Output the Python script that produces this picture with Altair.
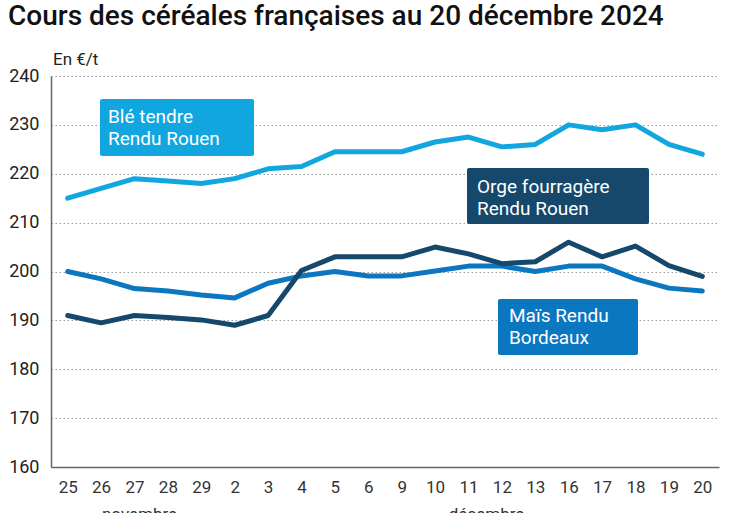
import altair as alt
import pandas as pd

days = ["25", "26", "27", "28", "29", "2", "3", "4", "5", "6",
        "9", "10", "11", "12", "13", "16", "17", "18", "19", "20"]
ble = [215, 217, 219, 218.5, 218, 219, 221, 221.5, 224.5, 224.5,
       224.5, 226.5, 227.5, 225.5, 226, 230, 229, 230, 226, 224]
mais = [200, 198.5, 196.5, 196, 195.2, 194.6, 197.6, 199.1, 200, 199.1,
        199.1, 200.1, 201.1, 201.1, 200, 201.1, 201.1, 198.5, 196.6, 196]
orge = [191, 189.5, 191, 190.6, 190.1, 189, 191, 200.2, 203, 203,
        203, 205, 203.6, 201.6, 202, 206, 203, 205.2, 201.2, 199]
months = ["novembre", "décembre"]
month_at = ["27", "11"]

series = {"Blé": ble, "Maïs": mais, "Orge": orge}
colors = {"Blé": "#12a6e0", "Maïs": "#0b77c1", "Orge": "#16486b"}

rows = []
for name, vals in series.items():
    for d, v in zip(days, vals):
        rows.append({"jour": d, "prix": v, "serie": name})
df = pd.DataFrame(rows)

W, H = 668, 391
FONT = "Roboto"

xenc = alt.X("jour:N", sort=days,
             scale=alt.Scale(type="point", padding=0.5),
             axis=alt.Axis(title=None, labelAngle=0, ticks=False, domain=True,
                           domainColor="#666", domainWidth=1.5, labelFontSize=17,
                           labelColor="#333", labelFont=FONT, labelPadding=12,
                           grid=False))
yenc = alt.Y("prix:Q", scale=alt.Scale(domain=[160, 240], nice=False, zero=False),
             axis=alt.Axis(title=None, values=list(range(160, 250, 10)), ticks=False,
                           domain=True, domainColor="#666", domainWidth=1.5,
                           labelFontSize=18, labelColor="#222", labelFont=FONT,
                           labelPadding=12, grid=True, gridColor="#9a9a9a",
                           gridDash=[1.5, 2.5], gridWidth=1))

base = alt.Chart(df)
layers = []
for i, name in enumerate(["Blé", "Maïs", "Orge"]):
    enc = dict(x=xenc, y=yenc) if i == 0 else dict(x=alt.X("jour:N", sort=days), y="prix:Q")
    layers.append(
        base.transform_filter(alt.datum.serie == name)
        .mark_line(color=colors[name], strokeWidth=5, strokeCap="round", strokeJoin="round")
        .encode(**enc)
    )


def label_box(x1, x2, y1, y2, color, lines, tx, ty, lh=22):
    out = [alt.Chart(pd.DataFrame({"a": [0]})).mark_rect(color=color, cornerRadius=2).encode(
        x=alt.value(x1), x2=alt.value(x2), y=alt.value(y1), y2=alt.value(y2))]
    for k, t in enumerate(lines):
        out.append(alt.Chart(pd.DataFrame({"a": [0]})).mark_text(
            text=t, color="white", font=FONT, fontSize=19, align="left", baseline="middle"
        ).encode(x=alt.value(tx), y=alt.value(ty + k * lh)))
    return out


layers += label_box(49, 203, 23, 80, colors["Blé"], ["Blé tendre", "Rendu Rouen"], 57, 41)
layers += label_box(416, 598, 92, 148, colors["Orge"], ["Orge fourragère", "Rendu Rouen"], 426, 111)
layers += label_box(447, 587, 223, 279, colors["Maïs"], ["Maïs Rendu", "Bordeaux"], 458, 240)

one = pd.DataFrame({"a": [0]})
layers.append(alt.Chart(one).mark_text(
    text="Cours des céréales françaises au 20 décembre 2024", font=FONT, fontSize=28,
    fontWeight=500, color="#111", align="left", baseline="top"
).encode(x=alt.value(-43), y=alt.value(-73)))
layers.append(alt.Chart(one).mark_text(
    text="En €/t", font=FONT, fontSize=17, color="#222", align="left", baseline="middle"
).encode(x=alt.value(2), y=alt.value(-16)))

for m, d, dx in zip(months, month_at, [5, 18]):
    layers.append(alt.Chart(pd.DataFrame({"jour": [d], "month": [m]})).mark_text(
        font=FONT, fontSize=17, color="#333", align="center", baseline="top", dx=dx
    ).encode(x=alt.X("jour:N", sort=days), y=alt.value(H + 40), text="month:N"))

chart = alt.layer(*layers).properties(
    width=W, height=H,
    background="white",
    autosize=alt.AutoSizeParams(type="none"),
    padding={"left": 51, "top": 76, "right": 28, "bottom": 46},
).configure_view(stroke=None)

chart.save("out.html", embed_options={"renderer": "svg", "actions": False})
